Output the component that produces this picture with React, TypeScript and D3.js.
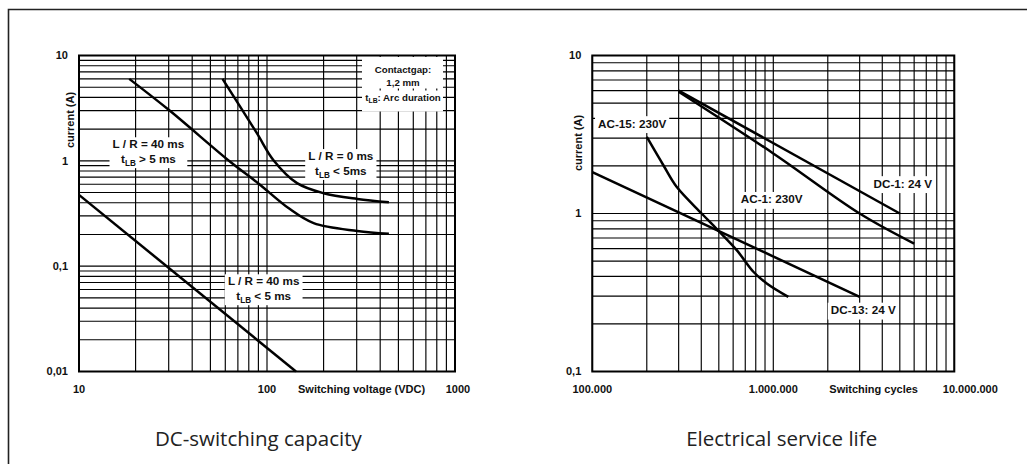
import React, { useEffect } from "react";
import * as d3 from "d3";

const W = 1027;
const H = 464;

// ---------- Left chart: DC-switching capacity ----------
const dcTicksX = [10, 100, 1000];
const dcTickLabelsX = ["10", "100", "1000"];
const dcTicksY = [0.01, 0.1, 1, 10];
const dcTickLabelsY = ["0,01", "0,1", "1", "10"];

const lr40SlowVoltage = [18.5, 30, 63.7, 90, 130, 177, 302, 445];
const lr40SlowCurrent = [6, 3.05, 0.98, 0.61, 0.356, 0.256, 0.216, 0.203];
const lr0Voltage = [58, 88, 108, 144.5, 200, 302, 445];
const lr0Current = [6, 1.85, 1.02, 0.614, 0.493, 0.435, 0.405];
const lr40FastVoltage = [10, 142.6];
const lr40FastCurrent = [0.475, 0.01];

// ---------- Right chart: Electrical service life ----------
const lifeTicksX = [1e5, 1e6, 1e7];
const lifeTickLabelsX = ["100.000", "1.000.000", "10.000.000"];
const lifeTicksY = [0.1, 1, 10];
const lifeTickLabelsY = ["0,1", "1", "10"];

const dc1Cycles = [3e5, 5e6];
const dc1Current = [6, 1];
const ac1Cycles = [3e5, 1e6, 3e6, 6e6];
const ac1Current = [5.9, 2.4, 1.0, 0.645];
const dc13Cycles = [1e5, 3e6];
const dc13Current = [1.83, 0.297];
const ac15Cycles = [2e5, 2.47e5, 2.93e5, 4.02e5, 4.86e5, 6.28e5, 7.76e5, 9.2e5, 1.21e6];
const ac15Current = [3.05, 2.02, 1.47, 1.0, 0.8, 0.586, 0.428, 0.361, 0.297];

const FONT = "'Liberation Sans', Arial, Helvetica, sans-serif";

type Seg = { t: string; sub?: boolean };
type Label = { x: number; y: number; lines: Seg[][] };

const dcLabels: Label[] = [
  { x: 23.4, y: 1.32, lines: [[{ t: "L / R = 40 ms" }], [{ t: "t" }, { t: "LB", sub: true }, { t: " > 5 ms" }]] },
  { x: 247, y: 1.02, lines: [[{ t: "L / R = 0 ms" }], [{ t: "t" }, { t: "LB", sub: true }, { t: " < 5ms" }]] },
  { x: 96, y: 0.066, lines: [[{ t: "L / R = 40 ms" }], [{ t: "t" }, { t: "LB", sub: true }, { t: " < 5 ms" }]] },
];
const lifeLabels: Label[] = [
  { x: 1.66e5, y: 3.5, lines: [[{ t: "AC-15: 230V" }]] },
  { x: 9.8e5, y: 1.16, lines: [[{ t: "AC-1: 230V" }]] },
  { x: 5.19e6, y: 1.46, lines: [[{ t: "DC-1: 24 V" }]] },
  { x: 3.14e6, y: 0.231, lines: [[{ t: "DC-13: 24 V" }]] },
];

let ctx: CanvasRenderingContext2D | null = null;
function measure(text: string, size: number) {
  if (!ctx) ctx = document.createElement("canvas").getContext("2d");
  if (!ctx) return text.length * size * 0.55;
  ctx.font = `bold ${size}px ${FONT}`;
  return ctx.measureText(text).width;
}

function logGrid(min: number, max: number) {
  const vals: number[] = [];
  const e0 = Math.floor(Math.log10(min) + 1e-9);
  const e1 = Math.ceil(Math.log10(max) - 1e-9);
  for (let e = e0; e <= e1; e++) {
    for (let k = 1; k <= 9; k++) {
      const v = k * Math.pow(10, e);
      if (v >= min * 0.999 && v <= max * 1.001) vals.push(v);
    }
  }
  return vals;
}

function LabelBlock({ cx, by, lines, size, lineGap, padX, padY }: any) {
  const subSize = size * 0.7;
  const widths = lines.map((segs: Seg[]) =>
    segs.reduce((a, s) => a + measure(s.t, s.sub ? subSize : size), 0)
  );
  const maxW = Math.max(...widths);
  const top = by - size * 0.8 - padY;
  const bottom = by + (lines.length - 1) * lineGap + size * 0.3 + padY;
  return (
    <g>
      <rect x={cx - maxW / 2 - padX} y={top} width={maxW + 2 * padX} height={bottom - top} fill="#fff" />
      {lines.map((segs: Seg[], i: number) => (
        <text key={i} x={cx} y={by + i * lineGap} textAnchor="middle" fontFamily={FONT} fontWeight="bold" fontSize={size} fill="#111">
          {segs.map((s, j) =>
            s.sub ? (
              <tspan key={j} fontSize={subSize} dy={3}>{s.t}</tspan>
            ) : (
              <tspan key={j} dy={j > 0 && segs[j - 1].sub ? -3 : 0}>{s.t}</tspan>
            )
          )}
        </text>
      ))}
    </g>
  );
}

function Panel(props: any) {
  const { x0, x1, y0, y1, xDomain, yDomain, xTicks, xTickLabels, yTicks, yTickLabels, curves, labels, xTitle, xTitleX, yTitleX, yTitleY, lastDx, lineGap, padY } = props;
  const xs = d3.scaleLog().domain(xDomain).range([x0, x1]);
  const ys = d3.scaleLog().domain(yDomain).range([y1, y0]);
  const gx = logGrid(xDomain[0], xDomain[1]);
  const gy = logGrid(yDomain[0], yDomain[1]);
  const line = d3
    .line<[number, number]>()
    .x((d) => xs(d[0]))
    .y((d) => ys(d[1]))
    .curve(d3.curveCatmullRom.alpha(0.5));
  return (
    <g>
      <rect x={x0} y={y0} width={x1 - x0} height={y1 - y0} fill="#fff" />
      {gx.map((v, i) => (
        <line key={"gx" + i} x1={xs(v)} x2={xs(v)} y1={y0} y2={y1} stroke="#000" strokeWidth={1.15} />
      ))}
      {gy.map((v, i) => (
        <line key={"gy" + i} x1={x0} x2={x1} y1={ys(v)} y2={ys(v)} stroke="#000" strokeWidth={1.15} />
      ))}
      {props.children}
      {curves.map((c: any, i: number) => (
        <path key={"c" + i} d={line(c.xs.map((xv: number, k: number) => [xv, c.ys[k]])) || ""} fill="none" stroke="#000" strokeWidth={2.5} strokeLinejoin="round" />
      ))}
      {labels.map((l: Label, i: number) => (
        <LabelBlock key={"l" + i} cx={xs(l.x)} by={ys(l.y)} lines={l.lines} size={11.7} lineGap={lineGap} padX={3} padY={padY} />
      ))}
      <rect x={x0} y={y0} width={x1 - x0} height={y1 - y0} fill="none" stroke="#000" strokeWidth={2} />
      {yTicks.map((v: number, i: number) => (
        <text key={"yt" + i} x={x0 - 11} y={ys(v)} dy="0.36em" textAnchor="end" fontFamily={FONT} fontWeight="bold" fontSize={11} fill="#111">
          {yTickLabels[i]}
        </text>
      ))}
      {xTicks.map((v: number, i: number) => (
        <text key={"xt" + i} x={xs(v)} dx={i === xTicks.length - 1 ? lastDx : 0} y={y1 + 21} textAnchor="middle" fontFamily={FONT} fontWeight="bold" fontSize={11} fill="#111">
          {xTickLabels[i]}
        </text>
      ))}
      <text x={xTitleX} y={y1 + 21} fontFamily={FONT} fontWeight="bold" fontSize={11} fill="#111">
        {xTitle}
      </text>
      <text transform={`translate(${yTitleX},${yTitleY}) rotate(-90)`} textAnchor="middle" dy="0.36em" fontFamily={FONT} fontWeight="bold" fontSize={11} fill="#111">
        current (A)
      </text>
    </g>
  );
}

export default function App() {
  useEffect(() => {
    document.body.style.margin = "0";
  }, []);
  return (
    <svg width={W} height={H} viewBox={`0 0 ${W} ${H}`} style={{ display: "block", background: "#fff" }}>
      <rect x={0} y={0} width={W} height={H} fill="#fff" />
      <path d={`M8.5,${H} V9.5 H${W}`} fill="none" stroke="#222" strokeWidth={1.6} />
      <Panel
        x0={79} x1={455} y0={55.5} y1={371.5}
        xDomain={[10, 1000]} yDomain={[0.01, 10]}
        xTicks={dcTicksX} xTickLabels={dcTickLabelsX}
        yTicks={dcTicksY} yTickLabels={dcTickLabelsY}
        curves={[
          { xs: lr40SlowVoltage, ys: lr40SlowCurrent },
          { xs: lr0Voltage, ys: lr0Current },
          { xs: lr40FastVoltage, ys: lr40FastCurrent },
        ]}
        labels={dcLabels}
        lineGap={15} padY={1.5}
        xTitle="Switching voltage (VDC)" xTitleX={298}
        yTitleX={70} yTitleY={120} lastDx={3}
      >
        <rect x={362} y={57} width={81} height={31.5} fill="#fff" />
        <rect x={362} y={90.5} width={81} height={21} fill="#fff" />
        <g fontFamily={FONT} fontWeight="bold" fontSize={9.7} fill="#111" textAnchor="middle">
          <text x={403} y={73.3}>Contactgap:</text>
          <text x={403} y={86}>1,2 mm</text>
          <text x={403} y={100.8}>
            <tspan>t</tspan>
            <tspan fontSize={6.8} dy={2.5}>LB</tspan>
            <tspan dy={-2.5}>: Arc duration</tspan>
          </text>
        </g>
      </Panel>
      <Panel
        x0={592.3} x1={954.3} y0={55.5} y1={371.5}
        xDomain={[1e5, 1e7]} yDomain={[0.1, 10]}
        xTicks={lifeTicksX} xTickLabels={lifeTickLabelsX}
        yTicks={lifeTicksY} yTickLabels={lifeTickLabelsY}
        curves={[
          { xs: dc1Cycles, ys: dc1Current },
          { xs: ac1Cycles, ys: ac1Current },
          { xs: dc13Cycles, ys: dc13Current },
          { xs: ac15Cycles, ys: ac15Current },
        ]}
        labels={lifeLabels}
        lineGap={15} padY={2}
        xTitle="Switching cycles" xTitleX={829.3}
        yTitleX={578} yTitleY={143} lastDx={16}
      />
      <text x={258.3} y={446} textAnchor="middle" fontFamily="'Open Sans', sans-serif" fontSize={20.5} fill="#222">
        DC-switching capacity
      </text>
      <text x={781.7} y={446} textAnchor="middle" fontFamily="'Open Sans', sans-serif" fontSize={20.5} fill="#222">
        Electrical service life
      </text>
    </svg>
  );
}
